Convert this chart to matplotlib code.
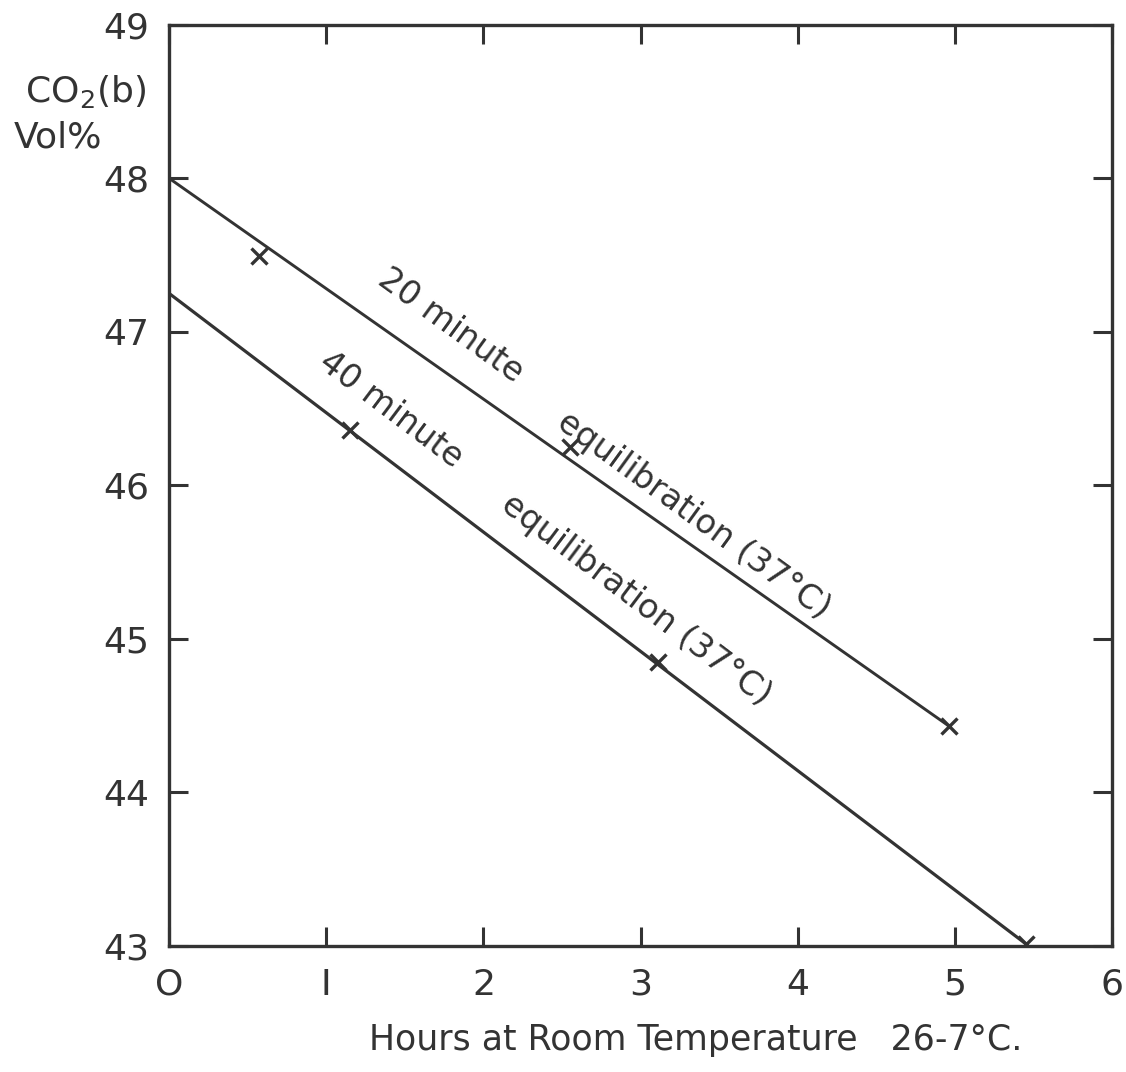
import matplotlib
matplotlib.use("Agg")
import matplotlib.pyplot as plt

# data
hours_20 = [0.57, 2.55, 4.96]
co2_20 = [47.49, 46.25, 44.43]
line_20_x = [0.0, 4.96]
line_20_y = [48.0, 44.43]

hours_40 = [1.15, 3.11, 5.45]
co2_40 = [46.36, 44.85, 43.01]
line_40_x = [0.0, 5.45]
line_40_y = [47.25, 43.01]

x_ticks = [0, 1, 2, 3, 4, 5, 6]
x_labels = ["O", "I", "2", "3", "4", "5", "6"]
y_ticks = [43, 44, 45, 46, 47, 48, 49]

ink = "#333333"
plt.rcParams["font.family"] = ["DejaVu Sans"]

fig = plt.figure(figsize=(11.26, 10.72), dpi=100)
ax = fig.add_axes([0.150, 0.118, 0.838, 0.859])

ax.plot(line_20_x, line_20_y, color=ink, lw=2.1)
ax.plot(line_40_x, line_40_y, color=ink, lw=2.3)
ax.plot(hours_20, co2_20, "x", color=ink, ms=12, mew=2.4)
ax.plot(hours_40, co2_40, "x", color=ink, ms=12, mew=2.4)

ax.set_xlim(0, 6)
ax.set_ylim(43, 49)
ax.set_xticks(x_ticks)
ax.set_xticklabels(x_labels)
ax.set_yticks(y_ticks)

ax.tick_params(direction="in", length=14, width=2.2, color=ink,
               labelsize=26, labelcolor=ink, top=True, right=True)
ax.tick_params(axis="x", pad=16)
ax.tick_params(axis="y", pad=14)
for s in ax.spines.values():
    s.set_linewidth(2.4)
    s.set_color(ink)

# labels along the lines
ax.text(1.79, 47.04, "20 minute", rotation=-36, ha="center", va="center",
        fontsize=24, color=ink, rotation_mode="anchor")
ax.text(3.34, 45.80, "equilibration (37°C)", rotation=-36, ha="center",
        va="center", fontsize=24, color=ink, rotation_mode="anchor")
ax.text(1.41, 46.49, "40 minute", rotation=-37, ha="center", va="center",
        fontsize=24, color=ink, rotation_mode="anchor")
ax.text(2.97, 45.25, "equilibration (37°C)", rotation=-37, ha="center",
        va="center", fontsize=24, color=ink, rotation_mode="anchor")

fig.text(0.022, 0.915, "CO$_2$(b)", fontsize=26, color=ink, ha="left", va="center")
fig.text(0.012, 0.872, "Vol%", fontsize=26, color=ink, ha="left", va="center")
fig.text(0.618, 0.030, "Hours at Room Temperature   26-7°C.", fontsize=25,
         color=ink, ha="center", va="center")

fig.savefig("out.png", dpi=100, facecolor="white")
